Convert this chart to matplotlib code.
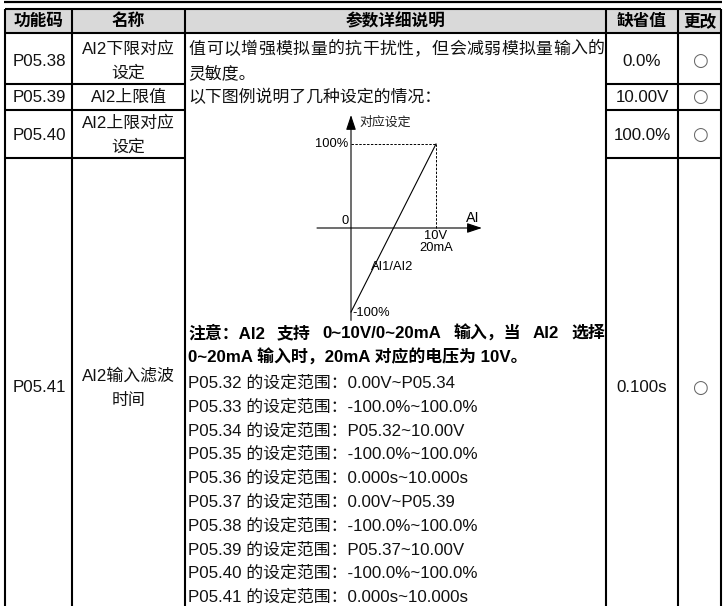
import matplotlib
matplotlib.use('Agg')
import matplotlib.pyplot as plt
from matplotlib.patches import Rectangle

plt.rcParams['font.family'] = ['Liberation Sans', 'Noto Sans CJK SC', 'DejaVu Sans']

# ---------------- data ----------------
header = ['功能码', '名称', '参数详细说明', '缺省值', '更改']
codes = ['P05.38', 'P05.39', 'P05.40', 'P05.41']
names = [['AI2下限对应', '设定'], ['AI2上限值'], ['AI2上限对应', '设定'], ['AI2输入滤波', '时间']]
defaults = ['0.0%', '10.00V', '100.0%', '0.100s']
changes = ['○', '○', '○', '○']
intro_lines = ['值可以增强模拟量的抗干扰性，但会减弱模拟量输入的', '灵敏度。', '以下图例说明了几种设定的情况：']
note_lines = ['注意：AI2 支持 0~10V/0~20mA 输入，当 AI2 选择', '0~20mA 输入时，20mA 对应的电压为 10V。']
range_params = ['P05.32', 'P05.33', 'P05.34', 'P05.35', 'P05.36',
                'P05.37', 'P05.38', 'P05.39', 'P05.40', 'P05.41']
range_values = ['0.00V~P05.34', '-100.0%~100.0%', 'P05.32~10.00V', '-100.0%~100.0%', '0.000s~10.000s',
                '0.00V~P05.39', '-100.0%~100.0%', 'P05.37~10.00V', '-100.0%~100.0%', '0.000s~10.000s']
# diagram: AI input (V) vs corresponding setting (%)
ai_input = [0, 10]
ai_setting = [-100, 100]
diag_labels = {'y': '对应设定', 'x': 'AI', 'top': '100%', 'bottom': '-100%', 'zero': '0',
               'xmax1': '10V', 'xmax2': '20mA', 'curve': 'AI1/AI2'}

# ---------------- layout ----------------
W, H = 723, 606
col_x = [5, 72, 185, 606, 678, 721]
row_y = [9, 33, 84, 110, 158, 606]
text_y = [61, 97, 135, 388]

fig = plt.figure(figsize=(W / 100, H / 100), dpi=100)
ax = fig.add_axes([0, 0, 1, 1])
ax.set_xlim(0, W)
ax.set_ylim(H, 0)
ax.axis('off')
renderer = fig.canvas.get_renderer()

LW = 1.5
# header background
ax.add_patch(Rectangle((col_x[0], row_y[0]), col_x[-1] - col_x[0], row_y[1] - row_y[0],
                       facecolor='#d9d9d9', edgecolor='none', zorder=0))
# top rule
ax.plot([4, 722], [2, 2], color='black', lw=1.6, solid_capstyle='butt')
# vertical lines
for x in col_x:
    ax.plot([x, x], [row_y[0], H], color='black', lw=LW, solid_capstyle='butt')
# horizontal lines
for y in row_y[:2]:
    ax.plot([col_x[0], col_x[-1]], [y, y], color='black', lw=LW, solid_capstyle='butt')
for y in row_y[2:5]:
    ax.plot([col_x[0], col_x[2]], [y, y], color='black', lw=LW, solid_capstyle='butt')
    ax.plot([col_x[3], col_x[-1]], [y, y], color='black', lw=LW, solid_capstyle='butt')

FS = 12.2
TXT = '#111111'
# header text
hy = (row_y[0] + row_y[1]) / 2 + 0.5
for i, h in enumerate(header):
    ax.text((col_x[i] + col_x[i + 1]) / 2, hy, h, ha='center', va='center',
            fontsize=12, fontweight='bold', color='black')

# rows
for r in range(4):
    cy = text_y[r]
    ax.text((col_x[0] + col_x[1]) / 2 + 1, cy, codes[r], ha='center', va='center', fontsize=FS, color=TXT)
    nl = names[r]
    for k, s in enumerate(nl):
        yy = cy + (k - (len(nl) - 1) / 2) * 24
        ax.text((col_x[1] + col_x[2]) / 2, yy, s, ha='center', va='center', fontsize=FS, color=TXT)
    ax.text((col_x[3] + col_x[4]) / 2, cy, defaults[r], ha='center', va='center', fontsize=FS, color=TXT)
    ax.text((col_x[4] + col_x[5]) / 2, cy, changes[r], ha='center', va='center', fontsize=13,
            color='#666666', family='DejaVu Sans')

# description column
X0, X1 = 188, 605
LINE = 23.8
# first justified line (all CJK chars)
s = intro_lines[0]
adv = (X1 - X0) / len(s)
for i, ch in enumerate(s):
    ax.text(X0 + (i + 0.5) * adv, 49.5, ch, ha='center', va='center', fontsize=FS, color=TXT)
ax.text(X0, 49.5 + LINE, intro_lines[1], ha='left', va='center', fontsize=FS, color=TXT)
ax.text(X0, 49.5 + 2 * LINE, intro_lines[2], ha='left', va='center', fontsize=FS, color=TXT)


def justify(chunks, x0, x1, y, **kw):
    texts = [ax.text(0, y, c, ha='left', va='center', **kw) for c in chunks]
    widths = [t.get_window_extent(renderer).width for t in texts]
    gap = (x1 - x0 - sum(widths)) / (len(chunks) - 1)
    x = x0
    for t, w in zip(texts, widths):
        t.set_x(x)
        x += w + gap


note_y = 333
justify(note_lines[0].split(' '), X0, X1, note_y, fontsize=FS, fontweight='bold', color='black')
ax.text(X0, note_y + 24.5, note_lines[1], ha='left', va='center', fontsize=FS, fontweight='bold', color='black')

ry = 383
for i, (p, v) in enumerate(zip(range_params, range_values)):
    ax.text(X0, ry + i * LINE, f'{p} 的设定范围：{v}', ha='left', va='center', fontsize=FS, color=TXT)

# ---------------- diagram (inset axes in data units) ----------------
ox, oy = 351, 228          # pixel position of origin
pxv, pxp = 8.5, 0.84       # pixels per volt, pixels per percent
bx0, bx1, by0, by1 = 300, 500, 105, 330
dax = fig.add_axes([bx0 / W, 1 - by1 / H, (bx1 - bx0) / W, (by1 - by0) / H])
dax.set_xlim((bx0 - ox) / pxv, (bx1 - ox) / pxv)
dax.set_ylim((oy - by1) / pxp, (oy - by0) / pxp)
dax.axis('off')
dax.patch.set_alpha(0)

arrow = dict(arrowstyle='-|>,head_length=0.9,head_width=0.3', color='black', lw=0.8,
             shrinkA=0, shrinkB=0, mutation_scale=10)
dax.annotate('', xy=(15.4, 0), xytext=(-4.0, 0), arrowprops=arrow)
dax.annotate('', xy=(0, 134.5), xytext=(0, -110), arrowprops=arrow)
dax.plot(ai_input, ai_setting, color='black', lw=0.8)
dax.plot([ai_input[0], ai_input[1]], [ai_setting[1], ai_setting[1]], color='black', lw=0.7, ls=(0, (2.5, 1.5)))
dax.plot([ai_input[1], ai_input[1]], [0, ai_setting[1]], color='black', lw=0.7, ls=(0, (2.5, 1.5)))

DFS = 9.3
dax.text(1.0, 125, diag_labels['y'], ha='left', va='center', fontsize=DFS, color='#222222')
dax.text(-0.35, ai_setting[1], diag_labels['top'], ha='right', va='center', fontsize=DFS)
dax.text(-0.7, 8, diag_labels['zero'], ha='center', va='center', fontsize=DFS)
dax.text(14.3, 12, diag_labels['x'], ha='center', va='center', fontsize=DFS + 1)
dax.text(ai_input[1], -10, diag_labels['xmax1'], ha='center', va='center', fontsize=DFS)
dax.text(ai_input[1], -24, diag_labels['xmax2'], ha='center', va='center', fontsize=DFS)
dax.text(2.4, -46, diag_labels['curve'], ha='left', va='center', fontsize=DFS)
dax.text(0.2, -101, diag_labels['bottom'], ha='left', va='center', fontsize=DFS)

fig.savefig('out.png', dpi=100)
